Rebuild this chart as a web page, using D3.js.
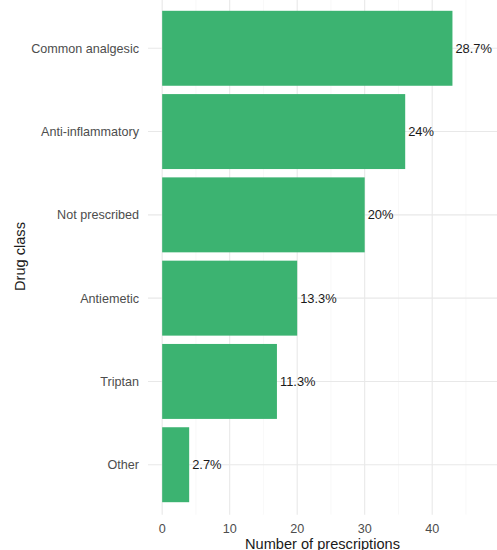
<!DOCTYPE html>
<html>
<head>
<meta charset="utf-8">
<script src="https://cdn.jsdelivr.net/npm/d3@7"></script>
<style>
  html, body { margin: 0; padding: 0; background: #fff; }
  svg { display: block; font-family: "Liberation Sans", Arial, sans-serif; }
</style>
</head>
<body>
<svg id="chart" width="497" height="550"></svg>
<script>
// Prescriptions by drug class
const categories = ["Common analgesic", "Anti-inflammatory", "Not prescribed", "Antiemetic", "Triptan", "Other"];
const counts = [43, 36, 30, 20, 17, 4];
const percentLabels = ["28.7%", "24%", "20%", "13.3%", "11.3%", "2.7%"];
const xMajorTicks = [0, 10, 20, 30, 40];
const xMinorTicks = [5, 15, 25, 35, 45];

const data = categories.map((c, i) => ({ cat: c, n: counts[i], label: percentLabels[i] }));

const svg = d3.select("#chart");
const panel = { left: 148, right: 497, top: -1.7, bottom: 514.7 };

const x = d3.scaleLinear().domain([-2.1, 49.6]).range([panel.left, panel.right]);
const y = d3.scaleBand()
  .domain(categories)
  .range([panel.top + 50 - 83.33 / 2, panel.bottom - 50 + 83.33 / 2])
  .paddingInner(0.1)
  .paddingOuter(0.05);

const g = svg.append("g");

// grid
g.selectAll(".minor").data(xMinorTicks).join("line")
  .attr("x1", d => x(d)).attr("x2", d => x(d))
  .attr("y1", panel.top).attr("y2", panel.bottom)
  .attr("stroke", "#f3f3f3").attr("stroke-width", 0.6);
g.selectAll(".majorx").data(xMajorTicks).join("line")
  .attr("x1", d => x(d)).attr("x2", d => x(d))
  .attr("y1", panel.top).attr("y2", panel.bottom)
  .attr("stroke", "#e8e8e8").attr("stroke-width", 1.1);
g.selectAll(".majory").data(categories).join("line")
  .attr("x1", panel.left).attr("x2", panel.right)
  .attr("y1", d => y(d) + y.bandwidth() / 2).attr("y2", d => y(d) + y.bandwidth() / 2)
  .attr("stroke", "#e8e8e8").attr("stroke-width", 1.1);

// bars
g.selectAll(".bar").data(data).join("rect")
  .attr("x", x(0))
  .attr("y", d => y(d.cat))
  .attr("width", d => x(d.n) - x(0))
  .attr("height", y.bandwidth())
  .attr("fill", "#3CB371");

// value labels
g.selectAll(".val").data(data).join("text")
  .attr("x", d => x(d.n) + 3)
  .attr("y", d => y(d.cat) + y.bandwidth() / 2)
  .attr("dy", "0.36em")
  .attr("font-size", 12.9)
  .attr("fill", "#1a1a1a")
  .text(d => d.label);

// y axis labels
g.selectAll(".ylab").data(categories).join("text")
  .attr("x", 139)
  .attr("y", d => y(d) + y.bandwidth() / 2)
  .attr("dy", "0.36em")
  .attr("text-anchor", "end")
  .attr("font-size", 12.6)
  .attr("fill", "#4d4d4d")
  .text(d => d);

// x axis labels
g.selectAll(".xlab").data(xMajorTicks).join("text")
  .attr("x", d => x(d))
  .attr("y", 528.3)
  .attr("dy", "0.36em")
  .attr("text-anchor", "middle")
  .attr("font-size", 12.6)
  .attr("fill", "#4d4d4d")
  .text(d => d);

// axis titles
svg.append("text")
  .attr("x", (panel.left + panel.right) / 2)
  .attr("y", 548.5)
  .attr("text-anchor", "middle")
  .attr("font-size", 14.6)
  .attr("fill", "#1a1a1a")
  .text("Number of prescriptions");

svg.append("text")
  .attr("transform", `translate(24.5, ${(panel.top + panel.bottom) / 2}) rotate(-90)`)
  .attr("text-anchor", "middle")
  .attr("font-size", 14.6)
  .attr("fill", "#1a1a1a")
  .text("Drug class");
</script>
</body>
</html>
